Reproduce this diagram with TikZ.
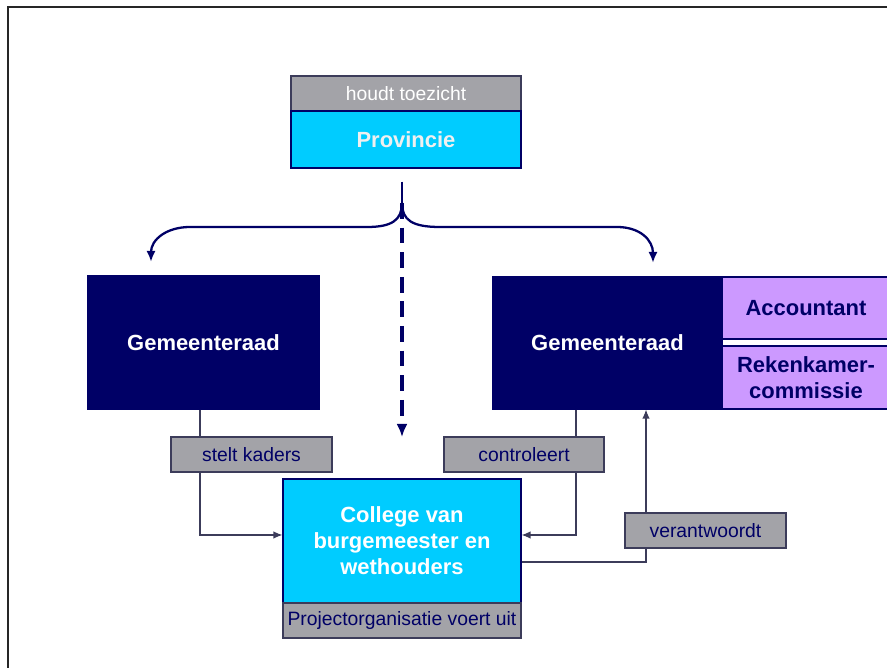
\documentclass[tikz,border=0pt]{standalone}
\usepackage{fontspec}
\setmainfont{Liberation Sans}
\usetikzlibrary{arrows.meta}

\definecolor{navy}{RGB}{0,0,102}
\definecolor{sky}{RGB}{0,204,255}
\definecolor{boxgray}{RGB}{163,163,168}
\definecolor{lila}{RGB}{204,153,255}
\definecolor{wire}{RGB}{60,60,90}

\tikzset{
  label box/.style={rectangle, draw=wire, line width=0.6pt, fill=boxgray, text=navy, inner sep=0pt, minimum height=0.7cm, font=\fontsize{11}{13}\selectfont},
  main box/.style={rectangle, draw=navy, line width=0.6pt, inner sep=0pt, font=\bfseries\fontsize{12.5}{14.8}\selectfont, align=center},
  wire line/.style={draw=wire, line width=0.8pt},
}

\begin{document}
\begin{tikzpicture}[x=0.02cm, y=-0.02cm]
\useasboundingbox (0, 0) rectangle (887, 668);
\draw[line width=1.2pt, black!85] (8, 668) -- (8, 7) -- (887, 7);

\node at (406, 93.5) [label box, text=white, minimum width=4.6cm] (toezicht) {houdt toezicht};
\node at (406, 139.5) [main box, fill=sky, text=white!94!black, minimum width=4.6cm, minimum height=1.14cm] (provincie) {Provincie};

\node at (203.5, 342.5) [main box, fill=navy, text=white, minimum width=4.62cm, minimum height=2.66cm] (raad1) {Gemeenteraad};
\node at (607.5, 343) [main box, fill=navy, text=white, minimum width=4.58cm, minimum height=2.64cm] (raad2) {Gemeenteraad};
\node at (806, 308) [main box, fill=lila, text=navy, minimum width=3.36cm, minimum height=1.24cm] (accountant) {Accountant};
\node at (806, 377.5) [main box, fill=lila, text=navy, minimum width=3.36cm, minimum height=1.26cm] (rekenkamer) {Rekenkamer-\\commissie};

\node at (251.5, 454.5) [label box, minimum width=3.22cm] (kaders) {stelt kaders};
\node at (524, 454.5) [label box, minimum width=3.2cm] (controleert) {controleert};
\node at (705.5, 530.5) [label box, minimum width=3.22cm] (verantwoordt) {verantwoordt};

\node at (402, 541) [main box, fill=sky, text=white, minimum width=4.76cm, minimum height=2.48cm] (college) {College van\\burgemeester en\\wethouders};
\node at (402, 620.5) [label box, minimum width=4.76cm] (project) {Projectorganisatie voert uit};

% toezicht van de provincie
\coordinate (fork) at (402, 203);
\draw[navy, line width=1.3pt] ([yshift=-0.26cm]provincie.south -| fork) -- (fork);
\draw[navy, line width=1.3pt, -{Latex[length=2.2mm, width=1.8mm]}] (fork) .. controls (402, 220) and (392, 227) .. (367, 227) -- (190, 227) .. controls (166, 227) and (151, 240) .. (151, 262);
\draw[navy, line width=1.3pt, -{Latex[length=2.2mm, width=1.8mm]}] (fork) .. controls (402, 220) and (412, 227) .. (440, 227) -- (617, 227) .. controls (640, 227) and (653, 240) .. (653, 263);
\draw[navy, line width=2pt, dash pattern=on 9pt off 5pt, -{Latex[length=2.6mm, width=2.2mm]}] (fork) -- (402, 437);

% lijnen naar het college
\draw[wire line] (raad1.south -| 200,0) -- (kaders.north -| 200,0);
\draw[wire line, -{Latex[length=1.8mm, width=1.5mm]}] (kaders.south -| 200,0) |- (college.west |- 0,535);
\draw[wire line] (raad2.south -| 576,0) -- (controleert.north -| 576,0);
\draw[wire line, -{Latex[length=1.8mm, width=1.5mm]}] (controleert.south -| 576,0) |- (college.east |- 0,535);
\draw[wire line] (college.east |- 0,562) -| (verantwoordt.south -| 646,0);
\draw[wire line, -{Latex[length=1.8mm, width=1.5mm]}] (verantwoordt.north -| 646,0) -- (raad2.south -| 646,0);
\end{tikzpicture}
\end{document}
